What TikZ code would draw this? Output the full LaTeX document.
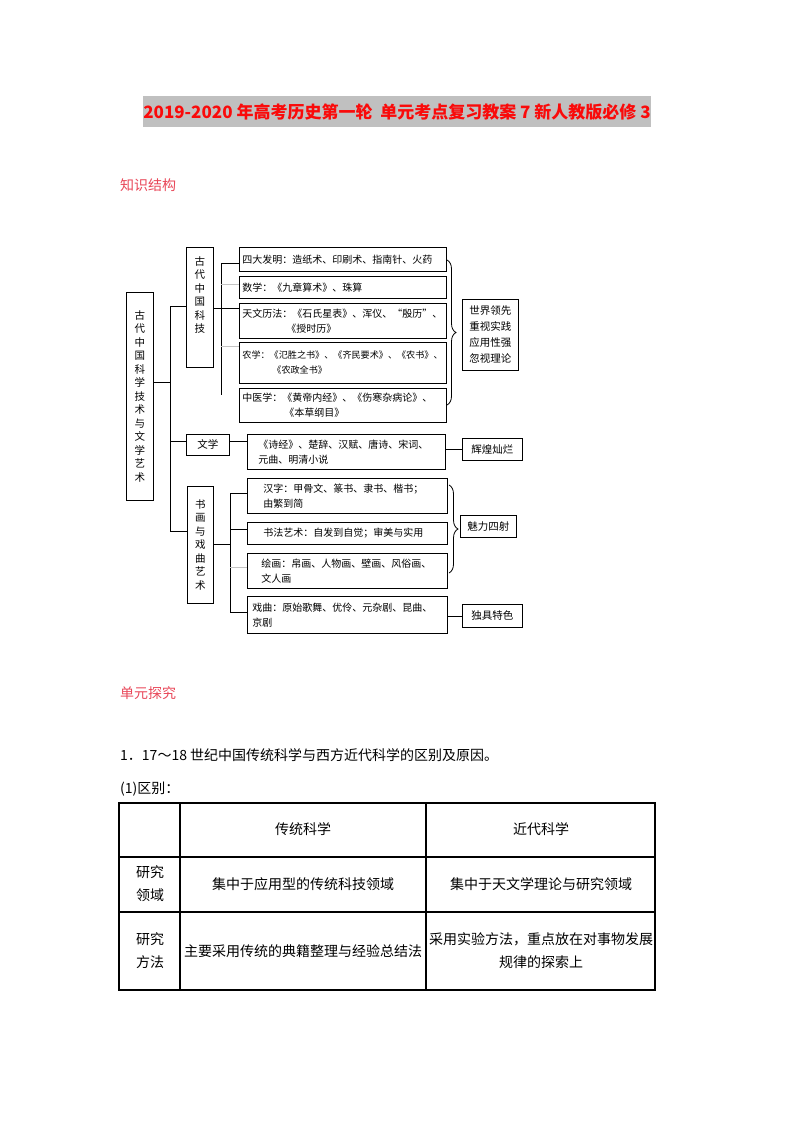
\documentclass[tikz,border=0pt]{standalone}
\usepackage{fontspec}
\setmainfont{Noto Sans CJK SC}
\usetikzlibrary{decorations.pathreplacing,positioning}
\definecolor{titlered}{RGB}{250,10,10}
\definecolor{headred}{RGB}{232,70,88}
\definecolor{bandgray}{RGB}{192,192,192}
\definecolor{linkgray}{RGB}{195,195,195}

\begin{document}
\begin{tikzpicture}[x=1pt,y=-1pt,
  frame/.style={draw,line width=0.8pt},
  vbox/.style={frame,anchor=north west,inner sep=0pt,align=center,font=\fontsize{10.5}{13.5}\selectfont},
  item/.style={frame,anchor=north west,inner xsep=3pt,inner ysep=0pt,align=left,font=\fontsize{10}{15}\selectfont},
  resbox/.style={frame,anchor=north west,inner sep=0pt,align=center,font=\fontsize{10.5}{16}\selectfont},
  link/.style={line width=0.8pt},
  faint/.style={line width=0.8pt,linkgray},
  curly/.style={line width=0.8pt,decorate,decoration={brace,amplitude=9pt}},
  cell/.style={align=center,font=\fontsize{14}{23}\selectfont},
  rule/.style={line width=1.2pt}]
  \useasboundingbox (0,0) rectangle (793,1122);

  % title band
  \fill[bandgray] (143,96) rectangle (651,127);
  \node[titlered,font=\fontsize{17}{20}\selectfont\bfseries] (title) at (397,112)
    {2019-2020 年高考历史第一轮\ \ 单元考点复习教案 7 新人教版必修 3};
  \node[headred,anchor=west,inner sep=0pt,font=\fontsize{14}{16}\selectfont] (struct) at (120,185) {知识结构};

  % left column
  \node[vbox,minimum width=27pt,minimum height=208pt] (main) at (126,292)
    {古\\代\\中\\国\\科\\学\\技\\术\\与\\文\\学\\艺\\术};
  \node[vbox,minimum width=27pt,minimum height=120pt] (sci) at (186,247)
    {古\\代\\中\\国\\科\\技\\[12pt]};
  \node[vbox,minimum width=43pt,minimum height=21pt] (lit) at (186,434) {文学};
  \node[vbox,minimum width=26pt,minimum height=117pt] (art) at (187,486)
    {书\\画\\与\\戏\\曲\\艺\\术};

  % science items
  \node[item,text width=201pt,minimum height=24pt] (b1) at (239,247) {四大发明：造纸术、印刷术、指南针、火药};
  \node[item,text width=201pt,minimum height=22pt] (b2) at (239,276) {数学：《九章算术》、珠算};
  \node[item,text width=201pt,minimum height=35pt] (b3) at (239,303)
    {天文历法：《石氏星表》、浑仪、“殷历”、\\\hspace*{44pt}《授时历》};
  \node[item,text width=201pt,minimum height=41pt,font=\fontsize{9.1}{15}\selectfont] (b4) at (239,342)
    {农学：《氾胜之书》、《齐民要术》、《农书》、\\\hspace*{30pt}《农政全书》};
  \node[item,text width=201pt,minimum height=34pt] (b5) at (239,388)
    {中医学：《黄帝内经》、《伤寒杂病论》、\\\hspace*{42pt}《本草纲目》};

  % literature item
  \node[item,text width=192pt,minimum height=35pt] (litc) at (247,434)
    {\hspace*{8pt}《诗经》、楚辞、汉赋、唐诗、宋词、\\\hspace*{8pt}元曲、明清小说};

  % art items
  \node[item,text width=194pt,minimum height=35pt] (c1) at (247,478)
    {\hspace*{13pt}汉字：甲骨文、篆书、隶书、楷书；\\\hspace*{13pt}由繁到简};
  \node[item,text width=194pt,minimum height=22pt] (c2) at (247,522)
    {\hspace*{13pt}书法艺术：自发到自觉；审美与实用};
  \node[item,text width=194pt,minimum height=35pt] (c3) at (247,553)
    {\hspace*{11pt}绘画：帛画、人物画、壁画、风俗画、\\\hspace*{11pt}文人画};
  \node[item,text width=194pt,minimum height=37pt] (c4) at (247,596)
    {\hspace*{2pt}戏曲：原始歌舞、优伶、元杂剧、昆曲、\\\hspace*{2pt}京剧};

  % result boxes
  \node[resbox,minimum width=56pt,minimum height=71pt] (sciR) at (462,299)
    {世界领先\\重视实践\\应用性强\\忽视理论};
  \node[resbox,minimum width=60pt,minimum height=22pt] (litR) at (462,438) {辉煌灿烂};
  \node[resbox,minimum width=56pt,minimum height=22pt] (artR) at (460,515) {魅力四射};
  \node[resbox,minimum width=60pt,minimum height=23pt] (opR) at (462,604) {独具特色};

  % main trunk
  \coordinate (ta) at (170,306);
  \coordinate (tb) at (170,382);
  \coordinate (tc) at (170,441);
  \coordinate (td) at (170,531);
  \draw[link] (ta) -- (td);
  \draw[link] (main.east |- tb) -- (tb);
  \draw[link] (ta) -- (ta -| sci.west);
  \draw[link] (tc) -- (tc -| lit.west);
  \draw[link] (td) -- (td -| art.west);

  % science branches
  \coordinate (sa) at (221,263);
  \coordinate (sb) at (221,395);
  \coordinate (sc) at (221,308);
  \coordinate (sd) at (221,284);
  \coordinate (sf) at (221,346);
  \draw[link] (sa) -- (sb);
  \draw[link] (sci.east |- sc) -- (sc);
  \draw[link] (sa) -- (sa -| b1.west);
  \draw[faint] (sd) -- (sd -| b2.west);
  \draw[link] (sc) -- (sc -| b3.west);
  \draw[faint] (sf) -- (sf -| b4.west);

  % literature branch
  \draw[link] (lit.east |- tc) -- (tc -| litc.west);
  \draw[link] (litR.west -| litc.east) -- (litR.west);

  % art branches
  \coordinate (ua) at (230,493);
  \coordinate (ub) at (230,612);
  \coordinate (uc) at (230,544);
  \coordinate (ud) at (230,529);
  \coordinate (ue) at (230,567);
  \draw[link] (ua) -- (ub);
  \draw[link] (art.east |- uc) -- (uc);
  \draw[link] (ua) -- (ua -| c1.west);
  \draw[link] (ud) -- (ud -| c2.west);
  \draw[faint] (ue) -- (ue -| c3.west);
  \draw[link] (ub) -- (ub -| c4.west);
  \draw[link] (opR.west -| c4.east) -- (opR.west);

  % braces
  \coordinate (braceA) at (447,260);
  \coordinate (braceB) at (447,405);
  \coordinate (braceC) at (449,485);
  \coordinate (braceD) at (449,573);
  \draw[curly] (braceA) -- (braceB);
  \draw[curly] (braceC) -- (braceD);

  % lower text
  \node[headred,anchor=west,inner sep=0pt,font=\fontsize{14}{16}\selectfont] (explore) at (120,693) {单元探究};
  \node[anchor=west,inner sep=0pt,font=\fontsize{14}{16}\selectfont] (q1) at (120,755)
    {1．17～18 世纪中国传统科学与西方近代科学的区别及原因。};
  \node[anchor=west,inner sep=0pt,font=\fontsize{14}{16}\selectfont] (q1a) at (120,789) {(1)区别：};

  % table
  \draw[rule] (119,803) rectangle (655,990);
  \draw[rule] (119,857) -- (655,857);
  \draw[rule] (119,912) -- (655,912);
  \draw[rule] (180,803) -- (180,990);
  \draw[rule] (426,803) -- (426,990);
  \node[cell] (hOld) at (303,829) {传统科学};
  \node[cell] (hNew) at (541,829) {近代科学};
  \node[cell] (rField) at (150,884) {研究\\领域};
  \node[cell] (oldField) at (303,884) {集中于应用型的传统科技领域};
  \node[cell] (newField) at (541,884) {集中于天文学理论与研究领域};
  \node[cell] (rMethod) at (150,951) {研究\\方法};
  \node[cell,inner xsep=0pt] (oldMethod) at (303,951) {主要采用传统的典籍整理与经验总结法};
  \node[cell,inner xsep=0pt] (newMethod) at (541,951) {采用实验方法，重点放在对事物发展\\规律的探索上};
\end{tikzpicture}
\end{document}
